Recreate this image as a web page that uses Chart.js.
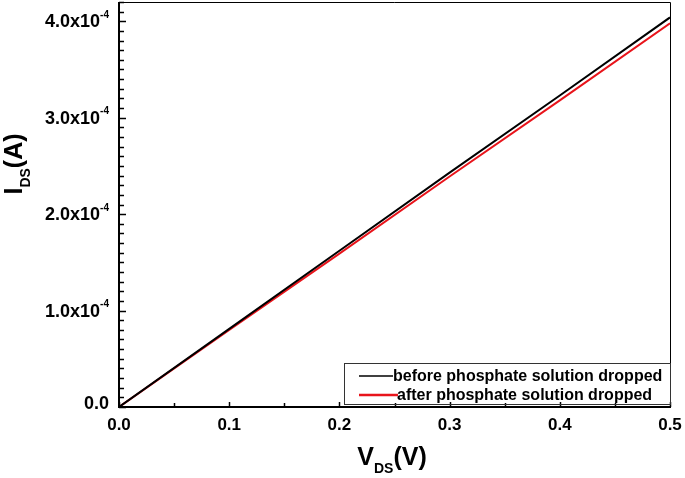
<!DOCTYPE html>
<html><head><meta charset="utf-8">
<script src="https://cdn.jsdelivr.net/npm/chart.js@4/dist/chart.umd.min.js"></script>
<style>html,body{margin:0;padding:0;background:#fff}#w{width:685px;height:478px}</style>
</head><body><div id="w"><canvas id="c"></canvas></div>
<script>
const vds = [0, 0.1, 0.2, 0.3, 0.4, 0.5];
const idsBefore = [0, 0.81e-4, 1.62e-4, 2.43e-4, 3.23e-4, 4.04e-4];
const idsAfter = [0, 0.80e-4, 1.59e-4, 2.39e-4, 3.18e-4, 3.98e-4];
const seriesLabels = ['before phosphate solution dropped', 'after phosphate solution dropped'];
const xTickValues = [0, 0.1, 0.2, 0.3, 0.4, 0.5];
const xTickLabels = ['0.0', '0.1', '0.2', '0.3', '0.4', '0.5'];
const yTickValues = [0, 1e-4, 2e-4, 3e-4, 4e-4];
const yTickMain = ['0.0', '1.0x10', '2.0x10', '3.0x10', '4.0x10'];
const yTickExp = ['', '-4', '-4', '-4', '-4'];

const FONT = '"Liberation Sans", Arial, sans-serif';

const deco = {
  id: 'deco',
  afterDraw(chart) {
    const ctx = chart.ctx, a = chart.chartArea;
    const xs = chart.scales.x, ys = chart.scales.y;
    ctx.save();
    ctx.strokeStyle = '#000';
    ctx.lineWidth = 1;
    ctx.beginPath();
    ctx.moveTo(a.left, a.top + 0.5); ctx.lineTo(a.right + 0.5, a.top + 0.5); ctx.lineTo(a.right + 0.5, a.bottom);
    ctx.stroke();
    ctx.lineWidth = 2;
    ctx.beginPath();
    ctx.moveTo(a.left, a.top); ctx.lineTo(a.left, a.bottom); ctx.lineTo(a.right + 1, a.bottom);
    ctx.stroke();
    ctx.lineWidth = 1.5;
    for (let i = 0; i <= 42; i++) {
      const v = i * 1e-5;
      const py = Math.round(ys.getPixelForValue(v)) + 0.5;
      const len = (i % 10 === 0) ? 7 : 5;
      ctx.beginPath(); ctx.moveTo(a.left, py); ctx.lineTo(a.left + len, py); ctx.stroke();
    }
    for (let i = 0; i <= 10; i++) {
      const v = i * 0.05;
      const px = Math.round(xs.getPixelForValue(v)) + 0.5;
      const len = (i % 2 === 0) ? 5 : 4;
      ctx.beginPath(); ctx.moveTo(px, a.bottom); ctx.lineTo(px, a.bottom - len); ctx.stroke();
    }
    ctx.fillStyle = '#000';
    ctx.textBaseline = 'middle';
    for (let i = 0; i < yTickValues.length; i++) {
      const py = ys.getPixelForValue(yTickValues[i]);
      ctx.font = 'bold 10px ' + FONT;
      const ew = yTickExp[i] ? ctx.measureText(yTickExp[i]).width : 0;
      const right = 109;
      ctx.textAlign = 'right';
      ctx.font = 'bold 18px ' + FONT;
      ctx.fillText(yTickMain[i], right - ew, i === 0 ? py - 3 : py + 1);
      if (yTickExp[i]) {
        ctx.textAlign = 'left';
        ctx.font = 'bold 10px ' + FONT;
        ctx.fillText(yTickExp[i], right - ew, py - 6);
      }
    }
    ctx.textAlign = 'center';
    ctx.font = 'bold 17px ' + FONT;
    for (let i = 0; i < xTickValues.length; i++) {
      const px = xs.getPixelForValue(xTickValues[i]);
      ctx.fillText(xTickLabels[i], px, 425);
    }
    {
      ctx.textAlign = 'left';
      ctx.textBaseline = 'alphabetic';
      ctx.font = 'bold 25px ' + FONT;
      const w1 = ctx.measureText('V').width;
      ctx.font = 'bold 14px ' + FONT;
      const w2 = ctx.measureText('DS').width;
      ctx.font = 'bold 25px ' + FONT;
      const w3 = ctx.measureText('(V)').width;
      let x = 392 - (w1 + w2 + w3) / 2;
      const y = 465;
      ctx.font = 'bold 25px ' + FONT; ctx.fillText('V', x, y); x += w1;
      ctx.font = 'bold 14px ' + FONT; ctx.fillText('DS', x, y + 8); x += w2;
      ctx.font = 'bold 25px ' + FONT; ctx.fillText('(V)', x, y);
    }
    {
      ctx.save();
      ctx.translate(22, 164);
      ctx.rotate(-Math.PI / 2);
      ctx.textAlign = 'left';
      ctx.textBaseline = 'alphabetic';
      ctx.font = 'bold 25px ' + FONT;
      const w1 = ctx.measureText('I').width;
      ctx.font = 'bold 14px ' + FONT;
      const w2 = ctx.measureText('DS').width;
      ctx.font = 'bold 25px ' + FONT;
      const w3 = ctx.measureText('(A)').width;
      let x = -(w1 + w2 + w3) / 2;
      ctx.font = 'bold 25px ' + FONT; ctx.fillText('I', x, 0); x += w1;
      ctx.font = 'bold 14px ' + FONT; ctx.fillText('DS', x, 8); x += w2;
      ctx.font = 'bold 25px ' + FONT; ctx.fillText('(A)', x, 0);
      ctx.restore();
    }
    ctx.lineWidth = 1;
    ctx.strokeStyle = '#333';
    ctx.strokeRect(344.5, 363.5, a.right - 344, 41);
    const ds = chart.data.datasets;
    ctx.textAlign = 'left';
    ctx.textBaseline = 'middle';
    ctx.font = 'bold 16px ' + FONT;
    const rows = [{y: 376, x0: 359, x1: 393, tx: 393}, {y: 395, x0: 359, x1: 398, tx: 397}];
    ds.forEach((d, i) => {
      const r = rows[i];
      ctx.strokeStyle = d.borderColor;
      ctx.lineWidth = i === 0 ? 1.5 : 2.5;
      ctx.beginPath(); ctx.moveTo(r.x0, r.y); ctx.lineTo(r.x1, r.y); ctx.stroke();
      ctx.fillStyle = '#000';
      ctx.fillText(d.label, r.tx, r.y + 1);
    });
    ctx.restore();
  }
};

new Chart(document.getElementById('c'), {
  type: 'line',
  data: {
    datasets: [
      { label: seriesLabels[0], data: vds.map((v, i) => ({x: v, y: idsBefore[i]})), borderColor: '#000000', borderWidth: 2, pointRadius: 0, tension: 0 },
      { label: seriesLabels[1], data: vds.map((v, i) => ({x: v, y: idsAfter[i]})), borderColor: '#e8141b', borderWidth: 2, pointRadius: 0, tension: 0 }
    ]
  },
  options: {
    responsive: true,
    maintainAspectRatio: false,
    animation: false,
    events: [],
    layout: { padding: { left: 119, right: 15, top: 2, bottom: 71 } },
    plugins: { legend: { display: false }, tooltip: { enabled: false } },
    scales: {
      x: { type: 'linear', min: 0, max: 0.5, display: false },
      y: { type: 'linear', min: 0, max: 4.2e-4, display: false }
    }
  },
  plugins: [deco]
});
</script></body></html>
